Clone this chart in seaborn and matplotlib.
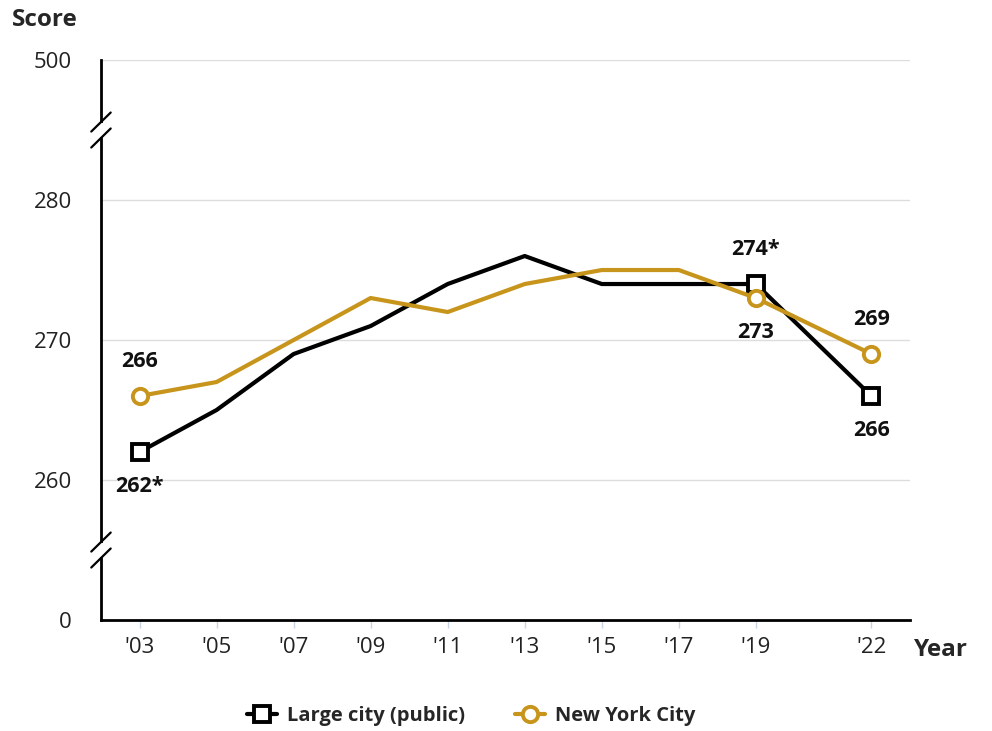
import matplotlib
matplotlib.use("Agg")
import matplotlib.pyplot as plt
import matplotlib.transforms as mtransforms
import pandas as pd
import seaborn as sns

years = [2003, 2005, 2007, 2009, 2011, 2013, 2015, 2017, 2019, 2022]
year_labels = ["'03", "'05", "'07", "'09", "'11", "'13", "'15", "'17", "'19", "'22"]
large_city = [262, 265, 269, 271, 274, 276, 274, 274, 274, 266]
nyc = [266, 267, 270, 273, 272, 274, 275, 275, 273, 269]

# labelled points: year -> (text, above?)
large_labels = {2003: ("262*", False), 2019: ("274*", True), 2022: ("266", False)}
nyc_labels = {2003: ("266", True), 2019: ("273", False), 2022: ("269", True)}

# axis break: 500 drawn at 290 slot, 0 at 250 slot
y_ticks = [250, 260, 270, 280, 290]
y_tick_labels = ["0", "260", "270", "280", "500"]

BLACK = "#000000"
GOLD = "#C8951C"

df = pd.DataFrame({
    "year": years * 2,
    "score": large_city + nyc,
    "series": ["Large city (public)"] * len(years) + ["New York City"] * len(years),
})

sns.set_theme(style="white")
plt.rcParams["font.family"] = ["Open Sans", "DejaVu Sans"]

fig = plt.figure(figsize=(9.92, 7.31), dpi=100)
ax = fig.add_axes([0.1018, 0.1518, 0.8155, 0.7661])

mark_idx = [0, 8, 9]
sns.lineplot(data=df[df.series == "Large city (public)"], x="year", y="score",
             color=BLACK, lw=3, marker="s", markersize=14, markevery=mark_idx,
             markerfacecolor="white", markeredgecolor=BLACK, markeredgewidth=2.8,
             label="Large city (public)", ax=ax, zorder=3)
sns.lineplot(data=df[df.series == "New York City"], x="year", y="score",
             color=GOLD, lw=3, marker="o", markersize=14, markevery=mark_idx,
             markerfacecolor="white", markeredgecolor=GOLD, markeredgewidth=2.8,
             label="New York City", ax=ax, zorder=4)

for vals, labs in [(large_city, large_labels), (nyc, nyc_labels)]:
    for yr, (txt, above) in labs.items():
        v = vals[years.index(yr)]
        ax.annotate(txt, (yr, v), xytext=(0, 25 if above else -25),
                    textcoords="offset points", ha="center", va="center",
                    fontsize=15.5, fontweight="bold", color="#111111")

ax.set_xlim(2002, 2023)
ax.set_ylim(250, 290)
ax.set_xticks(years)
ax.set_xticklabels(year_labels, fontsize=16)
ax.set_yticks(y_ticks)
ax.set_yticklabels(y_tick_labels, fontsize=16)
ax.set_xlabel("")
ax.set_ylabel("")
ax.tick_params(axis="x", length=6, width=1, color="#c9d3e6", pad=6, bottom=True,
               labelcolor="#222222")
ax.tick_params(axis="y", length=0, pad=21, labelcolor="#222222")

for y in [260, 270, 280, 290]:
    ax.axhline(y, color="#dddddd", lw=1, zorder=0)

for side in ["top", "right"]:
    ax.spines[side].set_visible(False)
for side in ["left", "bottom"]:
    ax.spines[side].set_color(BLACK)
    ax.spines[side].set_linewidth(2)

# break marks on the y axis
trans = mtransforms.blended_transform_factory(ax.transAxes, ax.transData)
for yb in [285, 255]:
    ax.plot([0, 0], [yb - 0.5, yb + 0.5], color="white", lw=4, transform=trans,
            clip_on=False, zorder=5, solid_capstyle="butt")
    for dy in [-0.57, 0.57]:
        ax.plot([-0.012, 0.012], [yb + dy - 0.68, yb + dy + 0.68], color=BLACK,
                lw=1.6, transform=trans, clip_on=False, zorder=6)

fig.text(0.012, 0.972, "Score", fontsize=17.5, fontweight="bold", va="center", ha="left")
fig.text(0.949, 0.111, "Year", fontsize=17.5, fontweight="bold", va="center", ha="center")

ax.get_legend().remove()
handles, labels = ax.get_legend_handles_labels()
for h in handles:
    h.set_markersize(11)
leg = fig.legend(handles, labels, loc="center", bbox_to_anchor=(0.475, 0.021),
                 ncol=2, frameon=False, handlelength=1.5, columnspacing=2.5,
                 handletextpad=0.5, prop={"size": 14.5, "weight": "bold"})

fig.savefig("out.png", dpi=100)
